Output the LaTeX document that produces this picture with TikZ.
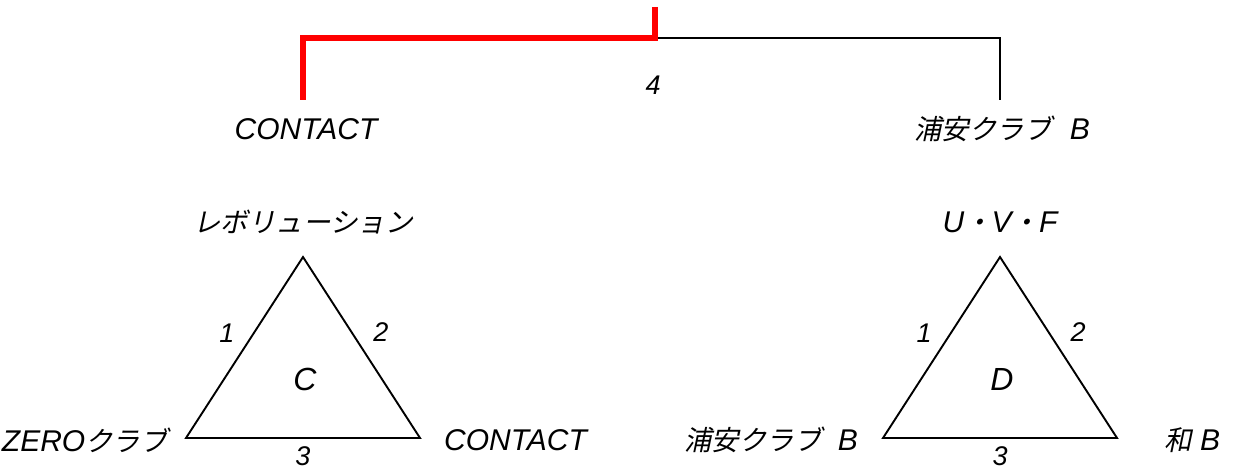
\documentclass[tikz,border=0pt]{standalone}
\usepackage{fontspec}
\setmainfont{Liberation Sans}
\newfontfamily\jpfont{Noto Sans CJK JP}[FakeSlant=0.21]
\usetikzlibrary{calc}
\newcommand{\jp}[1]{{\jpfont\upshape\fontsize{27.5}{32}\selectfont #1}}
\tikzset{
  lbl/.style={font=\fontsize{30}{36}\selectfont\itshape, inner sep=0pt},
  num/.style={font=\fontsize{27}{32}\selectfont\itshape, inner sep=0pt},
  grp/.style={font=\fontsize{32}{38}\selectfont\itshape, inner sep=0pt},
  tri/.style={draw, line width=1.9pt, line join=miter},
  win/.style={draw=red, line width=6.5pt, line join=miter},
  lose/.style={draw=black, line width=2.8pt, line join=miter}
}
\newcommand{\leaguetri}[3]{
  \coordinate (#2apex) at (#1, 257);
  \coordinate (#2left) at ({#1-117}, 438);
  \coordinate (#2right) at ({#1+117}, 438);
  \draw[tri] (#2apex) -- (#2left) -- (#2right) -- cycle;
  \node[lbl] (#2top) at (#1, 222) {#3};
  \node[num] (#2one) at ({#1-76}, 333) {1};
  \node[num] (#2two) at ({#1+78}, 332) {2};
  \node[num] (#2three) at (#1, 456) {3};
  \node[grp] (#2grp) at ({#1+2}, 379) {#2};
}

\begin{document}
\begin{tikzpicture}[x=1pt, y=-1pt]
  \useasboundingbox (0,0) rectangle (1238,470);

  % final
  \coordinate (final) at (655,7);
  \coordinate (mid) at (655,38);
  \coordinate (lcorner) at (303,38);
  \coordinate (lend) at (303,100);
  \coordinate (rcorner) at (1000,38);
  \coordinate (rend) at (1000,100);
  \draw[lose] (mid) -- (rcorner) -- (rend);
  \draw[win] (final) -- (mid) -- (lcorner) -- (lend);
  \node[num] (score) at (653,85) {4};
  \node[lbl] (contact) at (306,129) {CONTACT};
  \node[lbl] (urayasu) at (1002,129) {\jp{浦安クラブ}\hspace{18pt}B};

  % group C
  \leaguetri{303}{C}{\jp{レボリューション}}
  \node[lbl, anchor=east] (zero) at (168,440) {ZERO\jp{クラブ}};
  \node[lbl, anchor=west] (contactC) at (444,440) {CONTACT};

  % group D
  \leaguetri{1000}{D}{U\jp{・}V\jp{・}F}
  \node[lbl, anchor=east] (urayasuD) at (858,440) {\jp{浦安クラブ}\hspace{16pt}B};
  \node[lbl, anchor=west] (nagomi) at (1164,440) {\jp{和} B};
\end{tikzpicture}
\end{document}
